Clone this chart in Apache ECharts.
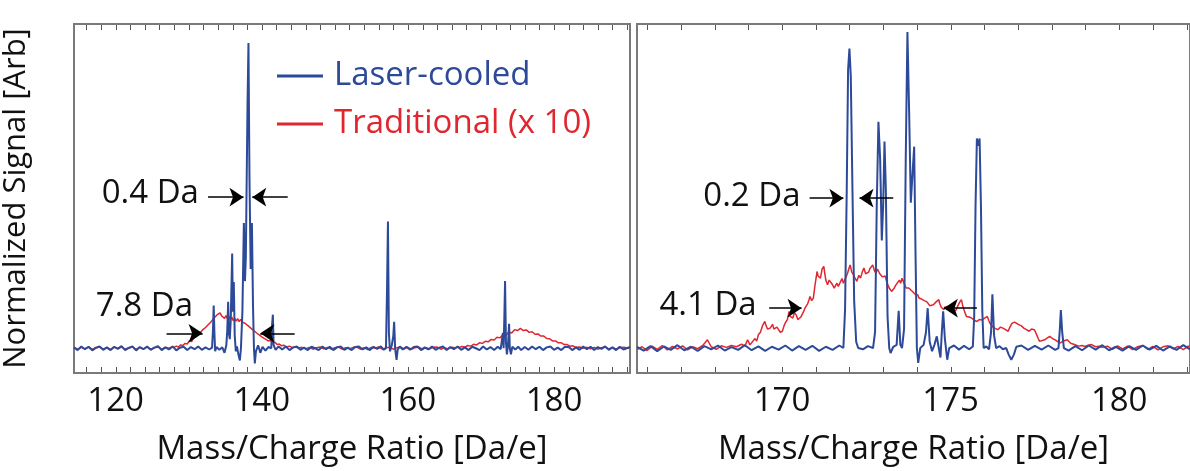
<!DOCTYPE html>
<html>
<head>
<meta charset="utf-8">
<script src="https://cdn.jsdelivr.net/npm/echarts@6/dist/echarts.min.js"></script>
<style>
html,body{margin:0;padding:0;background:#fff;}
#chart{width:1190px;height:471px;}
</style>
</head>
<body>
<div id="chart"></div>
<script>
// ---------- data ----------
const seriesNames = ['Laser-cooled', 'Traditional (x 10)'];
const xTitle = 'Mass/Charge Ratio [Da/e]';
const yTitle = 'Normalized Signal [Arb]';

const leftTickValues = [116,118,120,122,124,126,128,130,132,134,136,138,140,142,144,146,148,150,152,154,156,158,160,162,164,166,168,170,172,174,176,178,180,182,184,186,188,190];
const leftLabelValues = [120,140,160,180];
const rightTickValues = [166,167,168,169,170,171,172,173,174,175,176,177,178,179,180,181,182];
const rightLabelValues = [170,175,180];

const leftBlue = [[114.3,0.003],[114.8,-0.006],[115.3,0.006],[115.8,-0.003],[116.3,0.005],[116.8,-0.007],[117.3,0.002],[117.8,0.006],[118.3,-0.005],[118.8,0.003],[119.3,-0.006],[119.8,0.005],[120.3,-0.002],[120.8,0.007],[121.3,-0.006],[121.8,0.001],[122.3,0.006],[122.8,-0.007],[123.3,0.004],[123.8,-0.003],[124.3,0.006],[124.8,-0.005],[125.3,0.002],[125.8,0.007],[126.3,-0.006],[126.8,0.003],[127.3,-0.004],[127.8,0.006],[128.3,-0.007],[128.8,0.002],[129.3,0.005],[129.8,-0.006],[130.3,0.004],[130.8,-0.003],[131.3,0.006],[131.8,-0.005],[132.3,0.003],[132.8,-0.004],[133.2,0.002],[133.32,0.06],[133.42,0.14],[133.52,0.05],[133.62,-0.01],[133.8,0.004],[134.2,-0.005],[134.6,0.003],[134.9,-0.015],[135.15,0.01],[135.28,0.06],[135.4,0.152],[135.5,0.05],[135.62,0.03],[135.75,0.09],[135.95,0.31],[136.05,0.12],[136.17,0.217],[136.3,0.04],[136.45,-0.01],[136.6,0.006],[136.8,-0.02],[137.0,-0.04],[137.15,0.0],[137.35,0.12],[137.55,0.41],[137.7,0.22],[137.82,0.3],[138.05,0.8],[138.18,1.0],[138.32,0.55],[138.48,0.26],[138.65,0.41],[138.8,0.14],[138.93,0.0],[139.05,-0.05],[139.2,-0.01],[139.5,0.01],[139.8,-0.015],[140.1,0.005],[140.5,-0.008],[140.9,0.004],[141.3,0.0],[141.42,0.08],[141.52,0.11],[141.62,0.01],[141.9,-0.005],[142.3,0.006],[142.8,-0.004],[143.3,0.006],[143.8,-0.006],[144.3,0.003],[144.8,0.006],[145.3,-0.005],[145.8,0.002],[146.3,-0.006],[146.8,0.005],[147.3,0.0],[147.8,-0.006],[148.3,0.006],[148.8,-0.003],[149.3,0.005],[149.8,-0.006],[150.3,0.003],[150.8,0.006],[151.3,-0.005],[151.8,0.002],[152.3,-0.006],[152.8,0.004],[153.3,0.006],[153.8,-0.004],[154.3,0.003],[154.8,-0.006],[155.3,0.005],[155.8,-0.002],[156.3,0.006],[156.7,-0.005],[157.0,0.0],[157.15,0.2],[157.27,0.415],[157.4,0.05],[157.55,-0.01],[157.8,0.01],[158.0,0.04],[158.12,0.087],[158.25,0.0],[158.45,-0.038],[158.6,-0.005],[158.9,0.006],[159.3,-0.004],[159.8,0.005],[160.3,-0.005],[160.8,0.004],[161.3,0.006],[161.8,-0.006],[162.3,0.003],[162.8,-0.004],[163.3,0.006],[163.8,-0.005],[164.3,0.002],[164.8,0.006],[165.3,-0.006],[165.8,0.004],[166.3,-0.003],[166.8,0.006],[167.3,-0.005],[167.8,0.003],[168.3,-0.006],[168.8,0.005],[169.3,0.0],[169.8,-0.006],[170.3,0.006],[170.8,-0.004],[171.3,0.004],[171.8,-0.006],[172.3,0.005],[172.7,-0.003],[172.88,0.0],[173.0,0.05],[173.1,0.0],[173.2,0.1],[173.3,0.22],[173.42,0.02],[173.55,-0.02],[173.7,0.01],[173.85,0.08],[173.95,0.0],[174.1,-0.02],[174.3,0.005],[174.7,-0.004],[175.1,0.005],[175.5,-0.006],[176.0,0.004],[176.5,-0.005],[177.0,0.006],[177.5,-0.003],[178.0,0.005],[178.5,-0.006],[179.0,0.003],[179.5,0.006],[180.0,-0.005],[180.5,0.002],[181.0,-0.006],[181.5,0.005],[182.0,0.004],[182.5,-0.006],[183.0,0.003],[183.5,-0.005],[184.0,0.006],[184.5,-0.003],[185.0,0.005],[185.5,-0.006],[186.0,0.004],[186.5,-0.002],[187.0,0.006],[187.5,-0.005],[188.0,0.003],[188.5,-0.006],[189.0,0.005],[189.5,-0.004],[190.4,0.004]];

const leftRed = [[114.3,0.002],[114.8,-0.003],[115.3,0.003],[115.8,-0.002],[116.3,0.004],[116.8,-0.003],[117.3,0.001],[117.8,0.004],[118.3,-0.003],[118.8,0.002],[119.3,-0.004],[119.8,0.003],[120.3,0.0],[120.8,0.004],[121.3,-0.003],[121.8,0.002],[122.3,0.004],[122.8,-0.004],[123.3,0.003],[123.8,-0.002],[124.3,0.004],[124.8,-0.003],[125.3,0.002],[125.8,0.004],[126.3,-0.003],[126.8,0.003],[127.3,0.0],[127.7,0.004],[128.0,0.003],[128.3,0.007],[128.6,0.004],[128.9,0.011],[129.2,0.009],[129.5,0.016],[129.8,0.014],[130.1,0.025],[130.4,0.022],[130.7,0.036],[130.9,0.03],[131.1,0.042],[131.3,0.038],[131.5,0.05],[131.7,0.046],[131.9,0.06],[132.1,0.054],[132.3,0.068],[132.5,0.062],[132.7,0.078],[132.9,0.072],[133.1,0.088],[133.3,0.082],[133.5,0.1],[133.7,0.094],[133.9,0.11],[134.1,0.104],[134.3,0.116],[134.5,0.106],[134.7,0.112],[134.9,0.098],[135.1,0.107],[135.3,0.097],[135.5,0.104],[135.7,0.094],[135.9,0.102],[136.1,0.09],[136.3,0.098],[136.5,0.089],[136.7,0.097],[136.9,0.087],[137.1,0.095],[137.3,0.086],[137.5,0.092],[137.7,0.082],[137.9,0.086],[138.1,0.074],[138.3,0.078],[138.5,0.066],[138.7,0.07],[138.9,0.058],[139.1,0.06],[139.3,0.05],[139.5,0.053],[139.7,0.043],[139.9,0.046],[140.1,0.036],[140.3,0.039],[140.5,0.03],[140.7,0.032],[140.9,0.024],[141.2,0.026],[141.5,0.018],[141.8,0.02],[142.1,0.012],[142.4,0.014],[142.7,0.008],[143.0,0.01],[143.4,0.004],[143.8,0.007],[144.2,0.002],[144.6,0.004],[145.0,0.001],[145.5,0.003],[146.0,-0.002],[146.5,0.003],[147.0,-0.003],[147.5,0.002],[148.0,0.004],[148.5,-0.002],[149.0,0.003],[149.5,-0.003],[150.0,0.002],[150.5,0.004],[151.0,-0.003],[151.5,0.002],[152.0,-0.002],[152.5,0.003],[153.0,0.004],[153.5,-0.003],[154.0,0.002],[154.5,-0.004],[155.0,0.003],[155.5,0.0],[156.0,0.004],[156.5,-0.003],[157.0,0.002],[157.5,0.003],[158.0,-0.003],[158.5,0.002],[159.0,0.004],[159.5,-0.002],[160.0,0.003],[160.5,-0.003],[161.0,0.002],[161.5,0.004],[162.0,-0.003],[162.5,0.002],[163.0,-0.002],[163.5,0.003],[164.0,0.004],[164.5,-0.003],[165.0,0.002],[165.5,-0.002],[166.0,0.003],[166.5,0.002],[167.0,0.003],[167.4,0.006],[167.8,0.004],[168.2,0.009],[168.6,0.007],[169.0,0.013],[169.4,0.011],[169.8,0.018],[170.2,0.016],[170.6,0.023],[171.0,0.021],[171.4,0.029],[171.8,0.027],[172.2,0.036],[172.6,0.034],[173.0,0.044],[173.4,0.042],[173.8,0.053],[174.2,0.05],[174.6,0.061],[175.0,0.058],[175.4,0.065],[175.8,0.058],[176.2,0.06],[176.6,0.052],[177.0,0.054],[177.4,0.046],[177.8,0.047],[178.2,0.04],[178.6,0.04],[179.0,0.032],[179.4,0.031],[179.8,0.024],[180.2,0.024],[180.6,0.018],[181.0,0.018],[181.4,0.012],[181.8,0.012],[182.2,0.007],[182.6,0.008],[183.0,0.003],[183.5,0.004],[184.0,0.0],[184.5,0.003],[185.0,-0.002],[185.5,0.003],[186.0,-0.003],[186.5,0.002],[187.0,0.004],[187.5,-0.002],[188.0,0.003],[188.5,-0.003],[189.0,0.002],[189.5,0.003],[190.4,0.0]];

const rightBlue = [[165.7,0.004],[165.9,-0.008],[166.1,0.006],[166.3,-0.01],[166.5,0.005],[166.7,-0.006],[166.9,0.009],[167.1,-0.007],[167.3,0.004],[167.5,-0.009],[167.7,0.006],[167.9,-0.004],[168.1,0.008],[168.3,-0.008],[168.5,0.003],[168.7,-0.006],[168.9,0.009],[169.1,-0.007],[169.3,0.005],[169.5,-0.009],[169.7,0.004],[169.9,-0.005],[170.1,0.008],[170.3,-0.008],[170.5,0.006],[170.7,-0.006],[170.9,0.007],[171.1,-0.009],[171.3,0.004],[171.5,-0.006],[171.7,0.008],[171.82,0.0],[171.87,0.12],[171.92,0.5],[171.96,0.88],[172.0,0.947],[172.04,0.86],[172.09,0.5],[172.14,0.15],[172.2,0.02],[172.26,0.0],[172.4,-0.004],[172.55,0.006],[172.7,0.0],[172.76,0.05],[172.81,0.45],[172.86,0.716],[172.91,0.6],[172.96,0.34],[173.0,0.45],[173.04,0.653],[173.08,0.5],[173.13,0.1],[173.18,0.0],[173.22,-0.016],[173.3,0.004],[173.4,0.01],[173.46,0.118],[173.51,0.01],[173.56,0.0],[173.62,0.06],[173.67,0.6],[173.72,1.0],[173.77,0.75],[173.82,0.46],[173.87,0.55],[173.92,0.637],[173.96,0.3],[174.0,0.0],[174.04,-0.047],[174.1,0.0],[174.2,0.01],[174.27,0.05],[174.32,0.126],[174.38,0.02],[174.45,-0.01],[174.52,0.01],[174.59,0.037],[174.65,0.0],[174.7,-0.03],[174.74,0.05],[174.78,0.116],[174.83,0.03],[174.9,-0.037],[174.96,0.0],[175.1,0.008],[175.25,-0.005],[175.4,0.007],[175.55,-0.004],[175.66,0.005],[175.7,0.1],[175.74,0.45],[175.78,0.663],[175.82,0.64],[175.86,0.663],[175.9,0.45],[175.94,0.12],[175.98,0.0],[176.06,0.005],[176.14,-0.004],[176.2,0.05],[176.24,0.17],[176.29,0.04],[176.35,0.0],[176.45,0.006],[176.55,-0.004],[176.65,0.0],[176.72,-0.02],[176.8,-0.037],[176.88,-0.02],[176.95,0.004],[177.1,0.008],[177.3,-0.006],[177.5,0.007],[177.7,-0.005],[177.9,0.008],[178.1,-0.006],[178.2,0.0],[178.24,0.06],[178.27,0.12],[178.31,0.05],[178.36,0.0],[178.5,-0.008],[178.7,0.006],[178.9,-0.007],[179.1,0.008],[179.3,-0.005],[179.5,0.009],[179.7,-0.007],[179.9,0.004],[180.1,-0.008],[180.3,0.006],[180.5,-0.006],[180.7,0.008],[180.9,-0.005],[181.1,0.007],[181.3,-0.008],[181.5,0.005],[181.7,-0.006],[181.9,0.009],[182.1,-0.004],[182.3,0.005]];

const rightRed = [[165.7,-0.005],[165.85,0.004],[166.0,-0.008],[166.15,0.006],[166.3,-0.004],[166.45,0.008],[166.6,-0.006],[166.75,0.005],[166.9,-0.003],[167.05,0.007],[167.2,-0.006],[167.35,0.004],[167.5,-0.002],[167.65,0.008],[167.79,0.026],[167.9,0.004],[168.05,-0.004],[168.2,0.007],[168.35,0.002],[168.5,0.008],[168.65,0.004],[168.8,0.012],[168.9,0.006],[168.98,0.026],[169.05,0.01],[169.1,0.014],[169.2,0.03],[169.25,0.022],[169.3,0.042],[169.36,0.05],[169.42,0.07],[169.49,0.084],[169.53,0.07],[169.57,0.06],[169.65,0.063],[169.72,0.075],[169.76,0.06],[169.8,0.058],[169.85,0.066],[169.9,0.06],[169.95,0.05],[170.01,0.053],[170.06,0.07],[170.1,0.08],[170.16,0.09],[170.21,0.116],[170.24,0.1],[170.27,0.1],[170.32,0.095],[170.37,0.112],[170.42,0.105],[170.47,0.09],[170.52,0.089],[170.56,0.098],[170.6,0.1],[170.64,0.115],[170.68,0.126],[170.72,0.12],[170.76,0.14],[170.8,0.152],[170.83,0.163],[170.88,0.15],[170.93,0.158],[170.98,0.2],[171.04,0.242],[171.07,0.228],[171.09,0.225],[171.14,0.221],[171.19,0.25],[171.24,0.258],[171.27,0.235],[171.3,0.215],[171.35,0.2],[171.4,0.215],[171.45,0.221],[171.5,0.2],[171.55,0.189],[171.59,0.198],[171.63,0.205],[171.67,0.195],[171.71,0.2],[171.78,0.22],[171.82,0.205],[171.86,0.211],[171.94,0.235],[171.98,0.25],[172.02,0.263],[172.07,0.24],[172.12,0.232],[172.17,0.22],[172.22,0.211],[172.28,0.23],[172.33,0.221],[172.38,0.24],[172.43,0.253],[172.48,0.235],[172.53,0.232],[172.57,0.24],[172.6,0.25],[172.65,0.256],[172.69,0.263],[172.74,0.245],[172.79,0.237],[172.83,0.25],[172.86,0.245],[172.9,0.235],[172.94,0.232],[172.98,0.225],[173.02,0.22],[173.06,0.228],[173.1,0.211],[173.14,0.2],[173.18,0.19],[173.25,0.179],[173.29,0.185],[173.33,0.19],[173.37,0.198],[173.41,0.2],[173.48,0.215],[173.52,0.205],[173.56,0.221],[173.6,0.21],[173.64,0.2],[173.68,0.19],[173.72,0.184],[173.76,0.19],[173.8,0.188],[173.87,0.179],[173.91,0.174],[173.95,0.17],[174.03,0.168],[174.06,0.158],[174.1,0.162],[174.14,0.155],[174.18,0.158],[174.22,0.15],[174.26,0.148],[174.3,0.146],[174.34,0.142],[174.38,0.134],[174.42,0.14],[174.49,0.137],[174.53,0.142],[174.57,0.146],[174.61,0.148],[174.65,0.153],[174.68,0.14],[174.72,0.13],[174.76,0.125],[174.8,0.121],[174.84,0.13],[174.88,0.135],[174.95,0.132],[174.99,0.122],[175.03,0.118],[175.07,0.113],[175.11,0.111],[175.16,0.12],[175.2,0.13],[175.27,0.145],[175.32,0.153],[175.36,0.134],[175.4,0.12],[175.44,0.108],[175.47,0.1],[175.51,0.104],[175.55,0.098],[175.62,0.095],[175.66,0.092],[175.7,0.088],[175.74,0.094],[175.78,0.084],[175.85,0.09],[175.89,0.095],[175.93,0.089],[176.0,0.094],[176.04,0.097],[176.09,0.1],[176.13,0.088],[176.16,0.08],[176.2,0.074],[176.24,0.068],[176.28,0.065],[176.32,0.062],[176.36,0.06],[176.4,0.058],[176.44,0.063],[176.48,0.066],[176.55,0.063],[176.59,0.06],[176.63,0.058],[176.67,0.056],[176.71,0.053],[176.74,0.062],[176.78,0.07],[176.82,0.078],[176.86,0.084],[176.9,0.082],[176.94,0.08],[177.02,0.074],[177.06,0.072],[177.1,0.07],[177.14,0.066],[177.17,0.063],[177.25,0.058],[177.29,0.055],[177.33,0.053],[177.4,0.06],[177.44,0.062],[177.48,0.058],[177.52,0.05],[177.56,0.04],[177.6,0.03],[177.64,0.021],[177.72,0.024],[177.79,0.026],[177.87,0.032],[177.94,0.037],[177.98,0.034],[178.02,0.03],[178.1,0.026],[178.18,0.02],[178.25,0.016],[178.3,0.019],[178.35,0.022],[178.4,0.025],[178.46,0.026],[178.51,0.02],[178.56,0.015],[178.67,0.011],[178.8,0.006],[178.9,0.008],[178.98,0.005],[179.08,0.009],[179.18,0.011],[179.3,0.004],[179.4,0.006],[179.49,0.002],[179.65,0.006],[179.8,-0.004],[179.95,0.007],[180.1,-0.003],[180.25,0.006],[180.4,-0.005],[180.55,0.004],[180.7,0.008],[180.85,-0.004],[181.0,0.005],[181.15,-0.006],[181.3,0.004],[181.45,0.007],[181.6,-0.003],[181.75,0.005],[181.9,-0.005],[182.05,0.006],[182.2,0.002]];

// arrows: [fromX, toX, y]
const leftArrows = [[132.65,137.5,0.495],[143.55,138.7,0.495],[126.97,131.9,0.049],[144.5,139.8,0.049]];
const rightArrows = [[170.82,171.82,0.474],[173.3,172.3,0.474],[169.62,170.58,0.126],[175.78,174.8,0.126]];
// labels: [text, rightX, y]
const leftNotes = [['0.4 Da',131.4,0.505],['7.8 Da',130.6,0.138]];
const rightNotes = [['0.2 Da',170.55,0.48],['4.1 Da',169.25,0.133]];

// ---------- chart ----------
const FONT = 'Open Sans';
const BLUE = '#2d4a99';
const RED = '#e0262f';
const FRAME = '#7a7a7a';
const LEFT_X = [114.3, 190.4], LEFT_Y = [-0.081, 1.062];
const RIGHT_X = [165.7, 182.1], RIGHT_Y = [-0.079, 1.025];
const chart = echarts.init(document.getElementById('chart'), null, {renderer:'canvas'});

function arrowLines(arr){
  return arr.map(a => [{coord:[a[0],a[2]]},{coord:[a[1],a[2]]}]);
}
function xAx(grid, xr, labels, bottom){
  return {
    type:'value', gridIndex:grid, min:xr[0], max:xr[1], position: bottom?'bottom':'top',
    axisLine:{show:true, onZero:false, lineStyle:{color:FRAME, width:2}}, splitLine:{show:false},
    axisTick:{show:false},
    axisLabel:{show:bottom, customValues:labels, margin:12, fontSize:33, fontFamily:FONT, color:'#111'},
    name: bottom ? xTitle : '', nameLocation:'middle', nameGap:60,
    nameTextStyle:{fontSize:33, fontFamily:FONT, color:'#111'}
  };
}
function mkLine(name, data, xi, yi, color, width, z, lines){
  const s = {
    name:name, type:'line', xAxisIndex:xi, yAxisIndex:yi, data:data,
    showSymbol:false, symbol:'none', clip:true, z:z,
    lineStyle:{color:color, width:width}, itemStyle:{color:color},
    animation:false
  };
  if (lines){
    s.markLine = {
      silent:true, animation:false, label:{show:false}, emphasis:{disabled:true},
      symbol:['none','arrow'], symbolSize:14,
      lineStyle:{color:'#000', width:1.6, type:'solid'}, itemStyle:{color:'#000'},
      data:lines
    };
  }
  return s;
}

const option = {
  animation:false,
  textStyle:{fontFamily:FONT},
  grid:[
    {left:73, top:24, width:557, height:351, show:true, borderColor:FRAME, borderWidth:2},
    {left:637, top:24, width:556, height:351, show:true, borderColor:FRAME, borderWidth:2}
  ],
  xAxis:[
    xAx(0, LEFT_X, leftLabelValues, true), xAx(0, LEFT_X, leftLabelValues, false),
    xAx(1, RIGHT_X, rightLabelValues, true), xAx(1, RIGHT_X, rightLabelValues, false)
  ],
  yAxis:[
    {type:'value', gridIndex:0, min:LEFT_Y[0], max:LEFT_Y[1], axisLine:{show:false}, axisTick:{show:false}, axisLabel:{show:false}, splitLine:{show:false},
     name:yTitle, nameLocation:'middle', nameRotate:90, nameGap:42, nameTextStyle:{fontSize:31, fontFamily:FONT, color:'#111'}},
    {type:'value', gridIndex:1, min:RIGHT_Y[0], max:RIGHT_Y[1], axisLine:{show:false}, axisTick:{show:false}, axisLabel:{show:false}, splitLine:{show:false}}
  ],
  legend:{
    left:272, top:52, orient:'vertical', icon:'rect', itemWidth:46, itemHeight:3, itemGap:10,
    selectedMode:false,
    data:[
      {name:seriesNames[0], textStyle:{color:BLUE}},
      {name:seriesNames[1], textStyle:{color:RED}}
    ],
    textStyle:{fontSize:33, fontFamily:FONT, lineHeight:38, padding:[0,0,0,6]}
  },
  series:[
    mkLine(seriesNames[1], leftRed, 0, 0, RED, 1.5, 2, null),
    mkLine(seriesNames[0], leftBlue, 0, 0, BLUE, 2, 3, arrowLines(leftArrows)),
    mkLine(seriesNames[1], rightRed, 2, 1, RED, 1.5, 2, null),
    mkLine(seriesNames[0], rightBlue, 2, 1, BLUE, 2, 3, arrowLines(rightArrows))
  ]
};
chart.setOption(option);

// annotation texts, positioned through the axes' own scales
function noteGraphics(notes, xi, yi){
  return notes.map(n => {
    const p = chart.convertToPixel({xAxisIndex:xi, yAxisIndex:yi}, [n[1], n[2]]);
    return {type:'text', x:p[0], y:p[1], silent:true, z:10,
      style:{text:n[0], fill:'#111', font:'33px "Open Sans"', textAlign:'right', textVerticalAlign:'middle'}};
  });
}
// inward frame ticks on bottom and top edges, placed through the axis scale
function tickGraphics(ticks, xi, yi, yr){
  const out = [];
  const yb = chart.convertToPixel({yAxisIndex:yi}, yr[0]);
  const yt = chart.convertToPixel({yAxisIndex:yi}, yr[1]);
  ticks.forEach(v => {
    const x = Math.round(chart.convertToPixel({xAxisIndex:xi}, v)) + 0.5;
    out.push({type:'line', silent:true, z:5, shape:{x1:x, y1:yb-1, x2:x, y2:yb-6}, style:{stroke:'#555', lineWidth:1}});
    out.push({type:'line', silent:true, z:5, shape:{x1:x, y1:yt+1, x2:x, y2:yt+6}, style:{stroke:'#555', lineWidth:1}});
  });
  return out;
}
chart.setOption({graphic:
  noteGraphics(leftNotes,0,0).concat(noteGraphics(rightNotes,2,1))
  .concat(tickGraphics(leftTickValues,0,0,LEFT_Y)).concat(tickGraphics(rightTickValues,2,1,RIGHT_Y))
});
</script>
</body>
</html>
